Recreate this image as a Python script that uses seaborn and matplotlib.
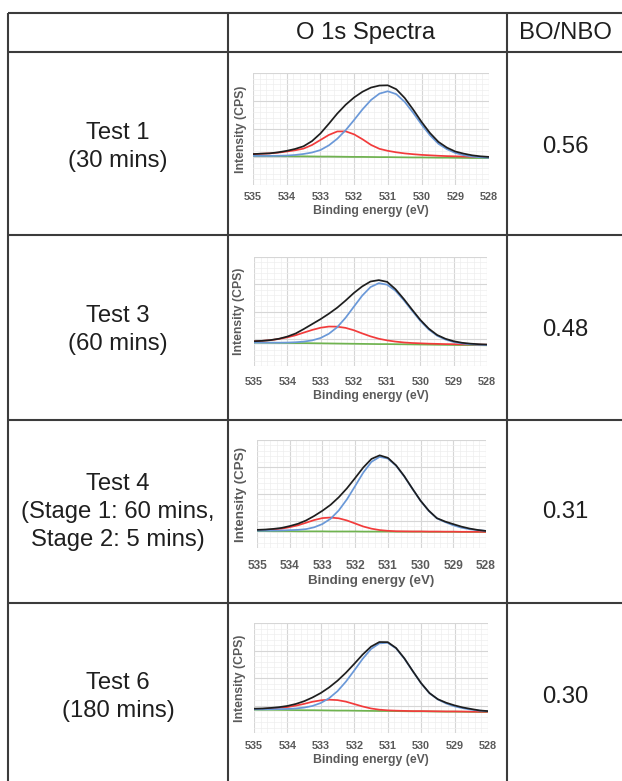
import numpy as np
import pandas as pd
import matplotlib
matplotlib.use("Agg")
import matplotlib.pyplot as plt
import seaborn as sns
from matplotlib.ticker import MultipleLocator, AutoMinorLocator

sns.set_theme(style="white")
plt.rcParams["font.family"] = ["Liberation Sans", "DejaVu Sans"]

# ---- table content ----
header = ["", "O 1s Spectra", "BO/NBO"]
row_labels = ["Test 1\n(30 mins)", "Test 3\n(60 mins)",
              "Test 4\n(Stage 1: 60 mins,\nStage 2: 5 mins)", "Test 6\n(180 mins)"]
bo_nbo = ["0.56", "0.48", "0.31", "0.30"]

# ---- spectra (binding energy grid, eV) ----
energy = [535.0, 534.75, 534.5, 534.25, 534.0, 533.75, 533.5, 533.25, 533.0, 532.75,
          532.5, 532.25, 532.0, 531.75, 531.5, 531.25, 531.0, 530.75, 530.5, 530.25,
          530.0, 529.75, 529.5, 529.25, 529.0, 528.75, 528.5, 528.25, 528.0]

# test 1
green1 = [2.60, 2.59, 2.59, 2.58, 2.57, 2.56, 2.56, 2.55, 2.54, 2.54, 2.53, 2.52, 2.51, 2.51, 2.50,
          2.49, 2.49, 2.48, 2.47, 2.46, 2.46, 2.45, 2.44, 2.44, 2.43, 2.42, 2.41, 2.41, 2.40]
red1 = [2.76, 2.79, 2.82, 2.89, 2.99, 3.10, 3.25, 3.57, 4.02, 4.47, 4.78, 4.79, 4.52, 4.08, 3.58,
        3.23, 3.05, 2.92, 2.82, 2.75, 2.69, 2.65, 2.61, 2.58, 2.56, 2.54, 2.52, 2.50, 2.48]
blue1 = [2.60, 2.60, 2.60, 2.61, 2.63, 2.68, 2.77, 2.90, 3.12, 3.54, 4.13, 4.90, 5.81, 6.76, 7.59,
         8.16, 8.37, 8.11, 7.42, 6.45, 5.40, 4.44, 3.68, 3.20, 2.86, 2.66, 2.54, 2.47, 2.43]
black1 = [2.76, 2.80, 2.83, 2.92, 3.05, 3.22, 3.46, 3.92, 4.60, 5.47, 6.38, 7.17, 7.82, 8.33, 8.70,
          8.88, 8.90, 8.55, 7.77, 6.74, 5.63, 4.64, 3.85, 3.34, 2.99, 2.80, 2.65, 2.56, 2.51]

# test 3
green2 = [2.15, 2.14, 2.13, 2.12, 2.11, 2.10, 2.10, 2.09, 2.08, 2.07, 2.06, 2.05, 2.04, 2.03, 2.02,
          2.01, 2.01, 2.00, 1.99, 1.98, 1.97, 1.96, 1.95, 1.94, 1.93, 1.92, 1.92, 1.91, 1.90]
red2 = [2.27, 2.31, 2.37, 2.48, 2.63, 2.82, 3.07, 3.31, 3.51, 3.62, 3.61, 3.50, 3.28, 2.99, 2.72,
        2.50, 2.35, 2.24, 2.16, 2.11, 2.08, 2.05, 2.03, 2.01, 2.00, 1.98, 1.98, 1.96, 1.95]
blue2 = [2.15, 2.14, 2.14, 2.14, 2.15, 2.18, 2.24, 2.35, 2.57, 2.96, 3.56, 4.42, 5.44, 6.45, 7.24,
         7.60, 7.46, 6.90, 6.04, 5.07, 4.13, 3.35, 2.78, 2.43, 2.20, 2.07, 1.99, 1.95, 1.92]
black2 = [2.27, 2.31, 2.38, 2.50, 2.70, 2.98, 3.40, 3.85, 4.30, 4.80, 5.35, 6.00, 6.70, 7.30, 7.75,
          7.88, 7.72, 7.05, 6.15, 5.17, 4.22, 3.43, 2.85, 2.50, 2.27, 2.13, 2.05, 2.00, 1.97]

# test 4
green3 = [1.56, 1.56, 1.55, 1.55, 1.55, 1.54, 1.54, 1.54, 1.54, 1.53, 1.53, 1.53, 1.53, 1.52, 1.52,
          1.52, 1.52, 1.51, 1.51, 1.51, 1.51, 1.50, 1.50, 1.50, 1.50, 1.49, 1.49, 1.49, 1.49]
red3 = [1.64, 1.67, 1.71, 1.79, 1.93, 2.10, 2.34, 2.59, 2.77, 2.82, 2.75, 2.55, 2.27, 1.99, 1.79,
        1.66, 1.59, 1.55, 1.54, 1.53, 1.53, 1.52, 1.52, 1.51, 1.51, 1.50, 1.50, 1.50, 1.49]
blue3 = [1.60, 1.60, 1.61, 1.62, 1.65, 1.68, 1.75, 1.92, 2.22, 2.71, 3.48, 4.51, 5.74, 6.99, 7.98,
         8.44, 8.28, 7.62, 6.63, 5.48, 4.36, 3.44, 2.74, 2.40, 2.10, 1.88, 1.74, 1.65, 1.58]
black3 = [1.68, 1.71, 1.77, 1.86, 2.03, 2.24, 2.55, 2.97, 3.45, 4.00, 4.70, 5.53, 6.48, 7.46, 8.25,
          8.58, 8.35, 7.66, 6.66, 5.50, 4.38, 3.46, 2.76, 2.45, 2.21, 1.98, 1.80, 1.67, 1.58]

# test 6
green4 = [2.12, 2.11, 2.11, 2.10, 2.09, 2.08, 2.07, 2.07, 2.06, 2.05, 2.04, 2.04, 2.03, 2.02, 2.01,
          2.00, 2.00, 1.99, 1.98, 1.97, 1.97, 1.96, 1.95, 1.94, 1.94, 1.93, 1.92, 1.91, 1.91]
red4 = [2.18, 2.19, 2.23, 2.28, 2.36, 2.49, 2.65, 2.84, 2.97, 3.03, 2.99, 2.85, 2.63, 2.41, 2.23,
        2.12, 2.06, 2.03, 2.01, 1.99, 1.99, 1.98, 1.97, 1.96, 1.96, 1.95, 1.94, 1.93, 1.93]
blue4 = [2.15, 2.15, 2.16, 2.17, 2.19, 2.23, 2.31, 2.46, 2.73, 3.17, 3.81, 4.67, 5.69, 6.74, 7.63,
         8.15, 8.20, 7.69, 6.75, 5.61, 4.51, 3.61, 3.05, 2.68, 2.42, 2.25, 2.12, 2.03, 1.97]
black4 = [2.21, 2.23, 2.28, 2.35, 2.46, 2.64, 2.89, 3.23, 3.64, 4.15, 4.76, 5.48, 6.29, 7.13, 7.85,
          8.27, 8.26, 7.73, 6.78, 5.63, 4.53, 3.63, 3.07, 2.75, 2.51, 2.32, 2.18, 2.05, 1.99]

spectra = [
    (green1, red1, blue1, black1),
    (green2, red2, blue2, black2),
    (green3, red3, blue3, black3),
    (green4, red4, blue4, black4),
]
components = ["Background", "BO", "NBO", "Envelope"]
palette = {"Background": "#6fb34f", "BO": "#f23b3b", "NBO": "#6a98d8", "Envelope": "#1e1e1e"}

W, H = 622, 781
fig = plt.figure(figsize=(W / 100, H / 100), dpi=100)

# table grid drawn in a pixel-coordinate background axes
bg = fig.add_axes([0, 0, 1, 1])
bg.set_xlim(0, W)
bg.set_ylim(H, 0)
bg.axis("off")
line_kw = dict(color="#3c3c3c", lw=1.5)
bg.hlines([13, 52, 235, 420, 603], 8, W, **line_kw)
bg.vlines([8, 228, 507], 13, H, **line_kw)

txt_kw = dict(ha="center", va="center", color="#1f1f1f", fontsize=17.2, linespacing=1.33)
bg.text(366, 33, header[1], **txt_kw)
bg.text(565, 33, header[2], **txt_kw)
row_mid = [147, 330, 512, 697]
for lab, val, ym in zip(row_labels, bo_nbo, row_mid):
    bg.text(118, ym, lab, **txt_kw)
    bg.text(565, ym, val, **txt_kw)


def px_rect(x0, y0, x1, y1):
    return [x0 / W, 1 - y1 / H, (x1 - x0) / W, (y1 - y0) / H]


panel_box = [(253, 73, 489, 185), (254, 257, 487, 366), (257, 440, 486, 548), (254, 623, 488, 733)]
tick_pad = [5, 8, 8.5, 6]
ylab_pad = [1.2, 3.4, 3.7, 2.2]
scale = [1.0, 1.0, 1.1, 1.0]
gray = "#5a5a5a"

for i, (curves, box) in enumerate(zip(spectra, panel_box)):
    ax = fig.add_axes(px_rect(*box))
    rows = []
    for comp, vals in zip(components, curves):
        rows.append(pd.DataFrame({"energy": energy, "intensity": vals, "component": comp}))
    df = pd.concat(rows, ignore_index=True)
    sns.lineplot(data=df, x="energy", y="intensity", hue="component", hue_order=components,
                 palette=palette, estimator=None, sort=False, legend=False, linewidth=1.25, ax=ax)

    ax.set_xlim(535, 528)
    ax.set_ylim(0, 10)
    ax.xaxis.set_major_locator(MultipleLocator(1))
    ax.xaxis.set_minor_locator(AutoMinorLocator(5))
    ax.yaxis.set_major_locator(MultipleLocator(2.5))
    ax.yaxis.set_minor_locator(AutoMinorLocator(5))
    ax.grid(True, which="major", color="#d6d6d6", lw=0.8)
    ax.grid(True, which="minor", color="#eeeeee", lw=0.5)
    ax.set_axisbelow(True)
    for s in ax.spines.values():
        s.set_visible(False)
    ax.tick_params(axis="both", which="both", length=0)
    ax.tick_params(axis="y", labelleft=False)
    ax.tick_params(axis="x", pad=tick_pad[i], labelsize=7.8 * scale[i], labelcolor=gray)
    for t in ax.get_xticklabels():
        t.set_fontweight("bold")
    ax.set_xlabel("Binding energy (eV)", fontsize=8.8 * scale[i], fontweight="bold",
                  color=gray, labelpad=2)
    ax.set_ylabel("Intensity (CPS)", fontsize=8.8 * scale[i], fontweight="bold",
                  color=gray, labelpad=ylab_pad[i])

fig.savefig("out.png", dpi=100)
